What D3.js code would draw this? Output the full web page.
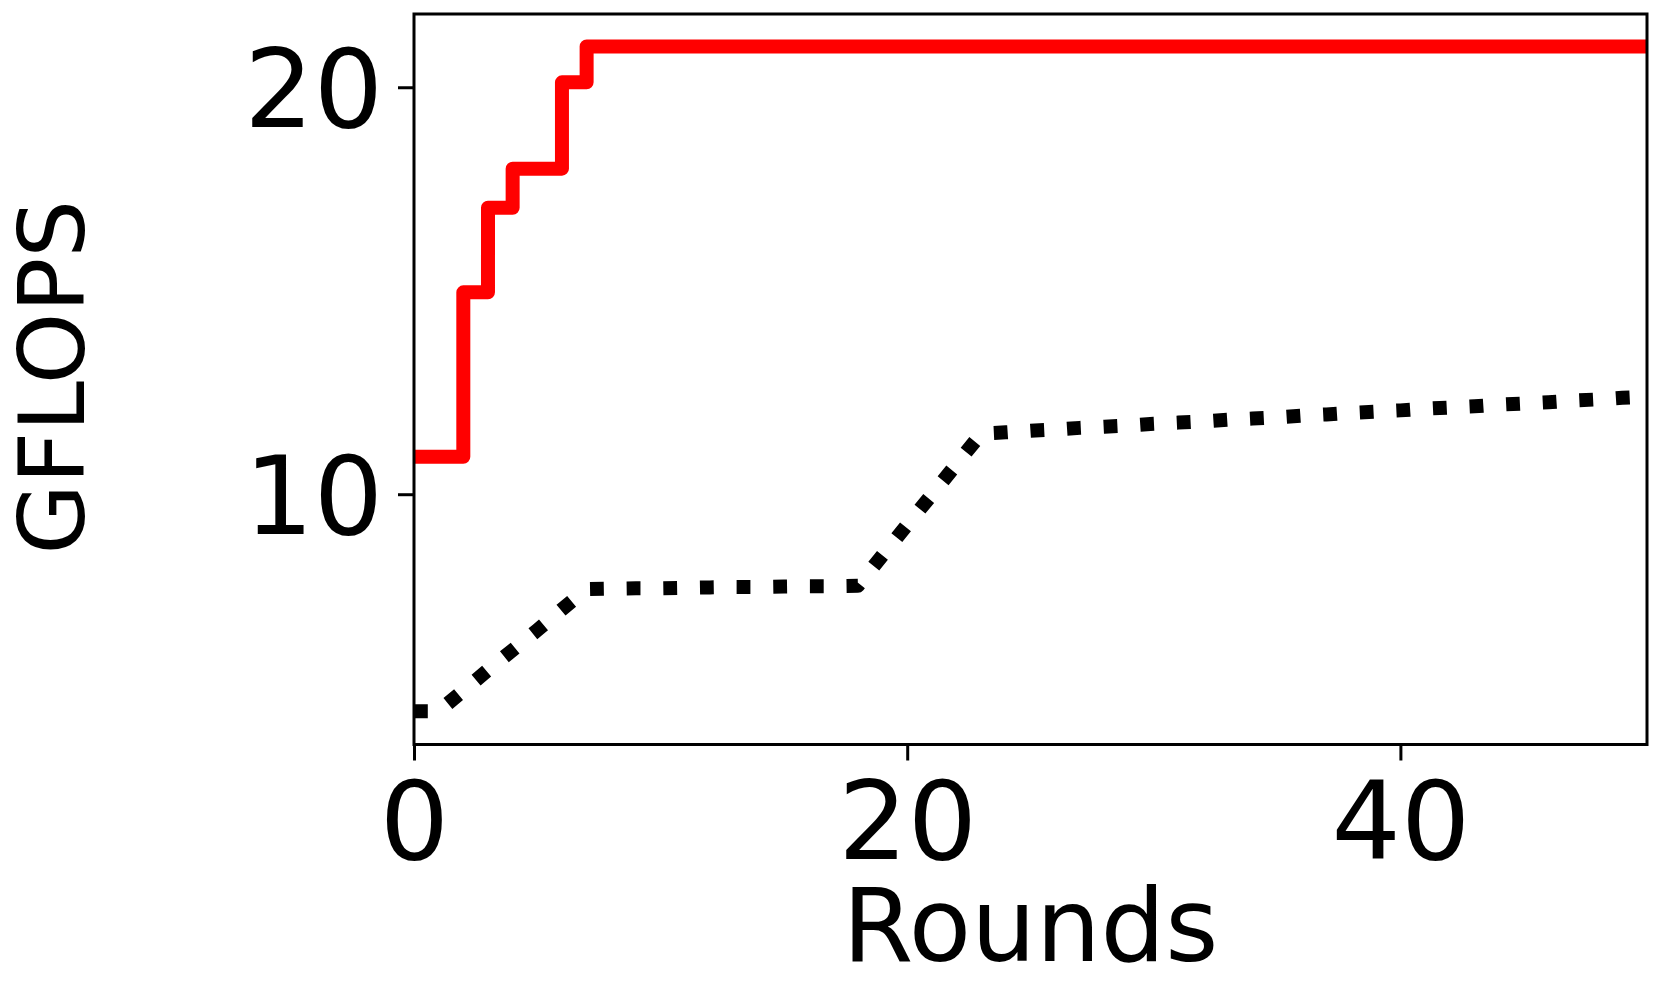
<!DOCTYPE html>
<html>
  <head>
    <meta charset="UTF-8">
    <style>
      body { margin: 0; background: #fff; }
      text { font-family: "DejaVu Sans", sans-serif; fill: #000; }
    </style>
    <script src="https://d3js.org/d3.v7.min.js"></script>
  </head>
  <body>
    <script type="text/javascript">
      var rounds = [0, 1, 2, 3, 4, 5, 6, 7, 8, 9, 10, 11, 12, 13, 14, 15, 16, 17, 18, 19, 20,
        21, 22, 23, 24, 25, 26, 27, 28, 29, 30, 31, 32, 33, 34, 35, 36, 37, 38, 39, 40,
        41, 42, 43, 44, 45, 46, 47, 48, 49, 50];

      // best so far (red, stepped)
      var bestGflops = [10.92, 10.92, 14.96, 17.04, 18.0, 18.0, 20.12, 21.0, 21.0, 21.0, 21.0,
        21.0, 21.0, 21.0, 21.0, 21.0, 21.0, 21.0, 21.0, 21.0, 21.0,
        21.0, 21.0, 21.0, 21.0, 21.0, 21.0, 21.0, 21.0, 21.0, 21.0,
        21.0, 21.0, 21.0, 21.0, 21.0, 21.0, 21.0, 21.0, 21.0, 21.0,
        21.0, 21.0, 21.0, 21.0, 21.0, 21.0, 21.0, 21.0, 21.0, 21.0];

      // black dotted curve
      var otherGflops = [4.67, 4.67, 5.17, 5.68, 6.17, 6.66, 7.17, 7.67, 7.68, 7.69, 7.69,
        7.70, 7.71, 7.72, 7.72, 7.73, 7.74, 7.74, 7.75, 8.50, 9.25,
        9.99, 10.74, 11.49, 11.52, 11.56, 11.59, 11.63, 11.66, 11.69, 11.73,
        11.76, 11.79, 11.83, 11.86, 11.89, 11.93, 11.96, 12.00, 12.03, 12.06,
        12.10, 12.13, 12.16, 12.20, 12.23, 12.26, 12.30, 12.33, 12.37, 12.40];

      var xTicks = [0, 20, 40];
      var yTicks = [10, 20];

      var width = 1661, height = 997;
      var plotLeft = 414, plotRight = 1647, plotTop = 14, plotBottom = 744.5;

      var x = d3.scaleLinear().domain([0, 50]).range([plotLeft, plotRight]);
      var y = d3.scaleLinear().domain([3.85, 21.80]).range([plotBottom, plotTop]);

      var svg = d3.select("body").append("svg")
        .attr("width", width)
        .attr("height", height);

      svg.append("clipPath").attr("id", "plot")
        .append("rect")
        .attr("x", plotLeft).attr("y", plotTop)
        .attr("width", plotRight - plotLeft).attr("height", plotBottom - plotTop);

      var lines = svg.append("g").attr("clip-path", "url(#plot)");

      var stepLine = d3.line()
        .x(function(d, i) { return x(rounds[i]); })
        .y(function(d) { return y(d); })
        .curve(d3.curveStepAfter);

      var plainLine = d3.line()
        .x(function(d, i) { return x(rounds[i]); })
        .y(function(d) { return y(d); });

      lines.append("path")
        .attr("d", plainLine(otherGflops))
        .attr("fill", "none")
        .attr("stroke", "#000")
        .attr("stroke-width", 14)
        .attr("stroke-dasharray", "13.8,22.85")
        .attr("stroke-linejoin", "round");

      lines.append("path")
        .attr("d", stepLine(bestGflops))
        .attr("fill", "none")
        .attr("stroke", "#ff0000")
        .attr("stroke-width", 14)
        .attr("stroke-linejoin", "round")
        .attr("stroke-linecap", "square");

      // axes
      var xAxis = d3.axisBottom(x).tickValues(xTicks).tickSize(16).tickPadding(20);
      var yAxis = d3.axisLeft(y).tickValues(yTicks).tickSize(16).tickPadding(15);

      var gx = svg.append("g")
        .attr("transform", "translate(0," + plotBottom + ")")
        .call(xAxis);
      var gy = svg.append("g")
        .attr("transform", "translate(" + plotLeft + ",0)")
        .call(yAxis);

      [gx, gy].forEach(function(g) {
        g.select(".domain").remove();
        g.selectAll(".tick line").attr("stroke", "#000").attr("stroke-width", 3);
        g.selectAll(".tick text")
          .style("font-family", "DejaVu Sans")
          .style("font-size", "109px")
          .attr("fill", "#000");
      });
      gx.selectAll(".tick text").attr("dy", "0.72em");
      gy.selectAll(".tick text").attr("dy", "0.36em");

      // frame
      svg.append("rect")
        .attr("x", plotLeft).attr("y", plotTop)
        .attr("width", plotRight - plotLeft).attr("height", plotBottom - plotTop)
        .attr("fill", "none")
        .attr("stroke", "#000")
        .attr("stroke-width", 3);

      svg.append("text")
        .attr("x", (plotLeft + plotRight) / 2)
        .attr("y", 961)
        .attr("text-anchor", "middle")
        .style("font-size", "102px")
        .text("Rounds");

      svg.append("text")
        .attr("transform", "translate(84," + ((plotTop + plotBottom) / 2 - 2) + ") rotate(-90)")
        .attr("text-anchor", "middle")
        .style("font-size", "91px")
        .text("GFLOPS");
    </script>
  </body>
</html>
